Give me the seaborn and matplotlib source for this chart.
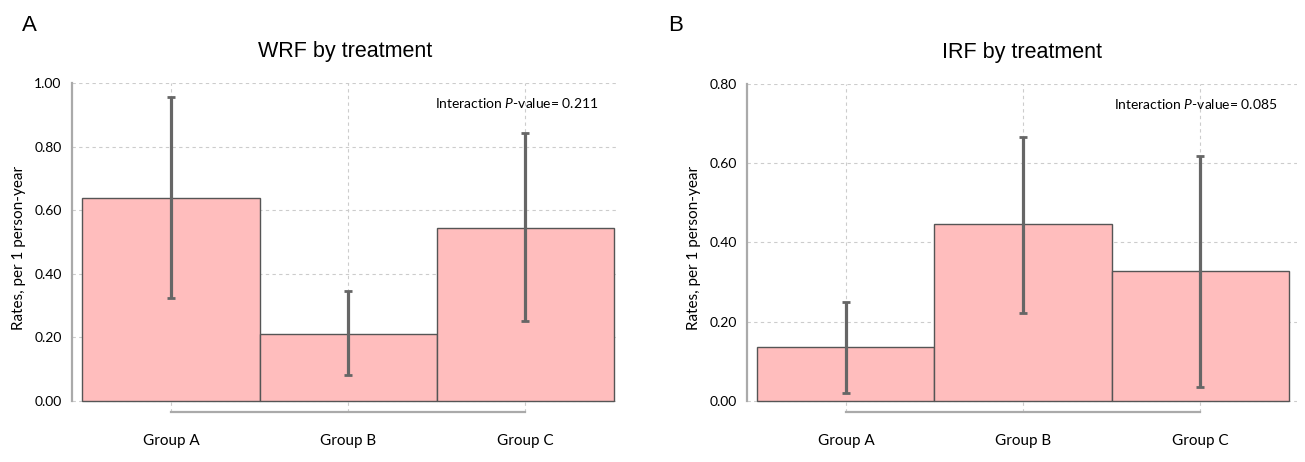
import numpy as np
import pandas as pd
import seaborn as sns
import matplotlib.pyplot as plt

# values
groups = ["Group A", "Group B", "Group C"]
wrf_rate = [0.638, 0.211, 0.543]
wrf_low = [0.324, 0.080, 0.250]
wrf_high = [0.957, 0.345, 0.842]
irf_rate = [0.137, 0.446, 0.329]
irf_low = [0.021, 0.221, 0.035]
irf_high = [0.249, 0.665, 0.618]
wrf_yticks = [0.0, 0.2, 0.4, 0.6, 0.8, 1.0]
irf_yticks = [0.0, 0.2, 0.4, 0.6, 0.8]
p_values = ["0.211", "0.085"]

sns.set_style("white")
plt.rcParams["font.family"] = ["Lato", "DejaVu Sans"]
plt.rcParams["mathtext.fontset"] = "custom"
plt.rcParams["mathtext.rm"] = "Lato"
plt.rcParams["mathtext.it"] = "Lato:italic"
plt.rcParams["text.color"] = "black"
plt.rcParams["axes.labelcolor"] = "black"
plt.rcParams["xtick.labelcolor"] = "black"
plt.rcParams["ytick.labelcolor"] = "black"

fig = plt.figure(figsize=(13.05, 4.62), dpi=100)
ax1 = fig.add_axes([0.0552, 0.1082, 0.4184, 0.7121])
ax2 = fig.add_axes([0.5724, 0.1082, 0.4215, 0.7100])

panels = [
    (ax1, wrf_rate, wrf_low, wrf_high, wrf_yticks, "WRF by treatment", p_values[0], (-0.559, 2.525)),
    (ax2, irf_rate, irf_low, irf_high, irf_yticks, "IRF by treatment", p_values[1], (-0.559, 2.548)),
]

for ax, rate, low, high, yt, title, pv, xl in panels:
    df = pd.DataFrame({"group": groups, "rate": rate})
    sns.barplot(data=df, x="group", y="rate", width=1.0, color="#ffbdbd",
                saturation=1, edgecolor="#555555", linewidth=1, ax=ax, zorder=2)
    rate = np.array(rate)
    yerr = [rate - np.array(low), np.array(high) - rate]
    ax.errorbar(np.arange(len(groups)), rate, yerr=yerr, fmt="none",
                ecolor="#666666", elinewidth=2.3, capsize=3, capthick=2, zorder=3)

    top = yt[-1]
    ax.set_ylim(-0.035 * top, top)
    ax.set_xlim(*xl)
    ax.set_yticks(yt)
    ax.set_yticklabels([f"{v:.2f}" for v in yt], fontsize=10)
    ax.set_xticks(range(len(groups)))
    ax.set_xticklabels(groups, fontsize=11)
    ax.set_xlabel("")
    ax.set_ylabel("Rates, per 1 person-year", fontsize=11, labelpad=6)

    ax.grid(True, linestyle=(0, (3, 3)), color="#cccccc", linewidth=0.8, zorder=0)
    ax.set_axisbelow(True)
    for s in ["top", "right"]:
        ax.spines[s].set_visible(False)
    for s in ["left", "bottom"]:
        ax.spines[s].set_color("#aaaaaa")
        ax.spines[s].set_linewidth(1.6)
    ax.spines["left"].set_bounds(0, top)
    ax.spines["bottom"].set_bounds(0, len(groups) - 1)
    ax.tick_params(axis="both", direction="out", length=4, width=1.4, color="#aaaaaa")
    ax.tick_params(axis="x", pad=12)

    ax.set_title(title, fontsize=15.5, family="Liberation Sans", pad=19)
    ax.text(0.964, 0.94, "Interaction $\\it{P}$-value= " + pv, transform=ax.transAxes,
            ha="right", va="center", fontsize=10)

fig.text(0.017, 0.945, "A", fontsize=16, family="Liberation Sans", va="center")
fig.text(0.512, 0.945, "B", fontsize=16, family="Liberation Sans", va="center")

fig.savefig("out.png", dpi=100)
